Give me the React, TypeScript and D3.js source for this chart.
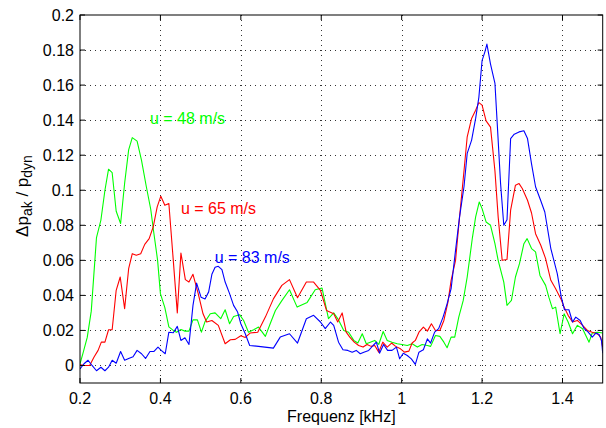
import React from 'react';
import * as d3 from 'd3';

const xTicks = [0.2, 0.4, 0.6, 0.8, 1.0, 1.2, 1.4];
const xTickLabels = ['0.2', '0.4', '0.6', '0.8', '1', '1.2', '1.4'];
const yTicks = [0, 0.02, 0.04, 0.06, 0.08, 0.1, 0.12, 0.14, 0.16, 0.18, 0.2];
const yTickLabels = ['0', '0.02', '0.04', '0.06', '0.08', '0.1', '0.12', '0.14', '0.16', '0.18', '0.2'];

const seriesNames = ['u = 48 m/s', 'u = 65 m/s', 'u = 83 m/s'];

const green48: [number, number][] = [
  [0.2, 0.001], [0.2075, 0.007], [0.218, 0.016], [0.228, 0.031], [0.241, 0.073], [0.252, 0.083],
  [0.262, 0.1], [0.271, 0.112], [0.28, 0.11], [0.29, 0.088], [0.301, 0.081], [0.311, 0.104],
  [0.321, 0.123], [0.33, 0.13], [0.342, 0.128], [0.353, 0.117], [0.365, 0.102], [0.376, 0.089],
  [0.384, 0.075], [0.393, 0.06], [0.4, 0.041], [0.411, 0.033], [0.421, 0.022], [0.432, 0.02],
  [0.44, 0.019], [0.451, 0.0205], [0.461, 0.0196], [0.471, 0.0196], [0.481, 0.026], [0.492, 0.026],
  [0.502, 0.019], [0.511, 0.025], [0.524, 0.0295], [0.536, 0.03], [0.55, 0.0267], [0.561, 0.0318],
  [0.572, 0.0238], [0.582, 0.028], [0.597, 0.029], [0.607, 0.0257], [0.619, 0.019], [0.632, 0.0204],
  [0.644, 0.0219], [0.661, 0.0166], [0.673, 0.0238], [0.686, 0.0314], [0.702, 0.037], [0.721, 0.0432],
  [0.74, 0.0333], [0.765, 0.036], [0.785, 0.0432], [0.802, 0.0442], [0.818, 0.0267], [0.831, 0.03],
  [0.843, 0.026], [0.856, 0.02], [0.868, 0.019], [0.881, 0.0143], [0.891, 0.0128], [0.902, 0.0181],
  [0.912, 0.0124], [0.922, 0.0133], [0.933, 0.0143], [0.943, 0.012], [0.954, 0.0194], [0.964, 0.0143],
  [0.976, 0.0133], [0.989, 0.0124], [1.001, 0.012], [1.014, 0.0114], [1.026, 0.0124], [1.039, 0.0105],
  [1.051, 0.012], [1.064, 0.0114], [1.072, 0.0109], [1.084, 0.0171], [1.095, 0.0166], [1.105, 0.0133],
  [1.113, 0.0101], [1.123, 0.0162], [1.132, 0.0162], [1.142, 0.0276], [1.153, 0.037], [1.163, 0.0505],
  [1.176, 0.073], [1.184, 0.0848], [1.193, 0.0933], [1.2, 0.0895], [1.21, 0.0819], [1.221, 0.08],
  [1.232, 0.0695], [1.24, 0.06], [1.254, 0.0476], [1.262, 0.0343], [1.273, 0.0371], [1.283, 0.0505],
  [1.293, 0.0581], [1.304, 0.0695], [1.312, 0.0724], [1.323, 0.0667], [1.333, 0.0648], [1.344, 0.0514],
  [1.358, 0.0457], [1.366, 0.039], [1.375, 0.0324], [1.383, 0.0333], [1.394, 0.0181], [1.404, 0.0295],
  [1.414, 0.0248], [1.425, 0.0181], [1.437, 0.0229], [1.45, 0.021], [1.458, 0.0171], [1.466, 0.0133],
  [1.474, 0.0185], [1.487, 0.019], [1.5, 0.0185],
];

const red65: [number, number][] = [
  [0.2, 0.0004], [0.212, 0], [0.224, 0], [0.235, 0.0048], [0.245, 0.0086], [0.253, 0.0133],
  [0.262, 0.0133], [0.271, 0.0204], [0.28, 0.0204], [0.29, 0.0429], [0.3, 0.0505], [0.311, 0.0324],
  [0.321, 0.0552], [0.33, 0.0638], [0.34, 0.0629], [0.351, 0.0638], [0.361, 0.0691], [0.372, 0.0724],
  [0.382, 0.079], [0.392, 0.0905], [0.401, 0.0966], [0.411, 0.0914], [0.421, 0.0924], [0.432, 0.06],
  [0.442, 0.03], [0.451, 0.0642], [0.462, 0.049], [0.471, 0.0476], [0.481, 0.052], [0.494, 0.041],
  [0.506, 0.0295], [0.515, 0.0248], [0.528, 0.0257], [0.544, 0.0229], [0.561, 0.0124], [0.574, 0.0147],
  [0.586, 0.0149], [0.6, 0.017], [0.611, 0.016], [0.623, 0.0185], [0.642, 0.019], [0.661, 0.0276],
  [0.681, 0.038], [0.702, 0.0457], [0.721, 0.049], [0.741, 0.0387], [0.763, 0.0476], [0.781, 0.0476],
  [0.798, 0.0429], [0.813, 0.0314], [0.831, 0.0295], [0.841, 0.0248], [0.852, 0.03], [0.862, 0.019],
  [0.871, 0.0162], [0.882, 0.0133], [0.893, 0.0114], [0.904, 0.0105], [0.914, 0.012], [0.924, 0.0109],
  [0.933, 0.0114], [0.943, 0.0076], [0.953, 0.0133], [0.964, 0.0105], [0.975, 0.0128], [0.985, 0.0109],
  [0.997, 0.0095], [1.007, 0.0076], [1.018, 0.0082], [1.026, 0.0128], [1.034, 0.0143], [1.043, 0.019],
  [1.054, 0.0219], [1.064, 0.0196], [1.074, 0.0238], [1.084, 0.02], [1.095, 0.02], [1.105, 0.0257],
  [1.115, 0.036], [1.123, 0.0486], [1.134, 0.06], [1.144, 0.0848], [1.155, 0.111], [1.163, 0.1305],
  [1.174, 0.141], [1.184, 0.1457], [1.192, 0.15], [1.2, 0.1486], [1.21, 0.1396], [1.221, 0.136],
  [1.232, 0.111], [1.24, 0.0848], [1.25, 0.06], [1.262, 0.0605], [1.271, 0.0886], [1.283, 0.1029],
  [1.292, 0.1038], [1.3, 0.101], [1.313, 0.0943], [1.323, 0.087], [1.333, 0.0752], [1.346, 0.0686],
  [1.358, 0.061], [1.371, 0.0486], [1.383, 0.0438], [1.396, 0.038], [1.404, 0.0333], [1.414, 0.0286],
  [1.425, 0.0248], [1.437, 0.0257], [1.45, 0.0229], [1.462, 0.02], [1.474, 0.019], [1.487, 0.018],
  [1.495, 0.0162], [1.5, 0.0105],
];

const blue83: [number, number][] = [
  [0.2, -0.002], [0.21, 0.001], [0.22, 0.003], [0.23, 0], [0.241, -0.003], [0.252, -0.001],
  [0.262, -0.003], [0.271, -0.001], [0.28, 0.003], [0.29, 0.0013], [0.301, 0.008], [0.311, 0.003],
  [0.321, 0.004], [0.332, 0.005], [0.342, 0.0086], [0.353, 0.0067], [0.363, 0.004], [0.374, 0.008],
  [0.384, 0.008], [0.394, 0.0105], [0.402, 0.0086], [0.412, 0.0067], [0.421, 0.019], [0.432, 0.0187],
  [0.442, 0.0223], [0.451, 0.0143], [0.461, 0.0158], [0.471, 0.012], [0.481, 0.0343], [0.49, 0.047],
  [0.501, 0.039], [0.511, 0.038], [0.52, 0.042], [0.528, 0.052], [0.536, 0.056], [0.544, 0.0566],
  [0.553, 0.0547], [0.561, 0.0476], [0.572, 0.041], [0.582, 0.0343], [0.592, 0.0305], [0.6, 0.0238],
  [0.611, 0.0181], [0.622, 0.0114], [0.644, 0.0109], [0.681, 0.0099], [0.698, 0.0162], [0.721, 0.0181],
  [0.741, 0.0128], [0.763, 0.0267], [0.781, 0.0286], [0.798, 0.0248], [0.81, 0.021], [0.823, 0.0248],
  [0.831, 0.0229], [0.843, 0.0133], [0.854, 0.009], [0.866, 0.0086], [0.877, 0.0076], [0.887, 0.0086],
  [0.897, 0.0067], [0.906, 0.0076], [0.918, 0.0086], [0.929, 0.0114], [0.937, 0.0133], [0.945, 0.007],
  [0.955, 0.012], [0.965, 0.0086], [0.976, 0.0086], [0.987, 0.0105], [0.995, 0.0038], [1.004, 0.007],
  [1.014, 0.0057], [1.024, 0.0038], [1.034, 0.0006], [1.043, 0.0076], [1.054, 0.009], [1.064, 0.0152],
  [1.072, 0.0128], [1.082, 0.019], [1.092, 0.021], [1.103, 0.0276], [1.113, 0.0352], [1.123, 0.0438],
  [1.134, 0.0657], [1.144, 0.0848], [1.155, 0.102], [1.163, 0.121], [1.174, 0.1286], [1.184, 0.141],
  [1.192, 0.153], [1.2, 0.174], [1.207, 0.179], [1.212, 0.1834], [1.221, 0.172], [1.232, 0.161],
  [1.24, 0.1286], [1.246, 0.1038], [1.254, 0.08], [1.262, 0.0832], [1.271, 0.1295], [1.28, 0.132],
  [1.292, 0.1333], [1.304, 0.1339], [1.313, 0.1295], [1.323, 0.115], [1.333, 0.102], [1.346, 0.094],
  [1.356, 0.0876], [1.371, 0.0667], [1.387, 0.0524], [1.397, 0.039], [1.405, 0.0318], [1.416, 0.0318],
  [1.425, 0.0248], [1.433, 0.0276], [1.444, 0.0257], [1.454, 0.021], [1.464, 0.019], [1.474, 0.0162],
  [1.483, 0.0185], [1.491, 0.0177], [1.497, 0.0143], [1.5, 0.007],
];

const W = 606;
const H = 428;
const FONT = '"Liberation Sans", Arial, Helvetica, sans-serif';

export default function App() {
  React.useEffect(() => {
    document.body.style.margin = '0';
  }, []);

  const x = d3.scaleLinear().domain([0.2, 1.5]).range([80, 602.7]);
  const y = d3.scaleLinear().domain([-0.01, 0.2]).range([383, 15]);
  const line = d3
    .line<[number, number]>()
    .x((d) => x(d[0]))
    .y((d) => y(d[1]));

  const [x0, x1] = x.range();
  const [y0, y1] = y.range();
  const tickLen = 5;

  const series = [
    { data: green48, color: '#00ff00', label: seriesNames[0], lx: 0.374, ly: 0.1377 },
    { data: red65, color: '#ff0000', label: seriesNames[1], lx: 0.451, ly: 0.0863 },
    { data: blue83, color: '#0000ff', label: seriesNames[2], lx: 0.535, ly: 0.0583 },
  ];

  return (
    <svg
      width={W}
      height={H}
      style={{ position: 'absolute', left: 0, top: 0, background: '#fff' }}
      fontFamily={FONT}
    >
      <rect x={0} y={0} width={W} height={H} fill="#fff" />
      {/* grid */}
      <g stroke="#333" strokeWidth={1} strokeDasharray="1,4" fill="none">
        {xTicks
          .filter((t) => t > 0.2)
          .map((t) => (
            <line key={'gx' + t} x1={Math.round(x(t)) + 0.5} x2={Math.round(x(t)) + 0.5} y1={y1} y2={y0} />
          ))}
        {yTicks
          .filter((t) => t < 0.2)
          .map((t) => (
            <line key={'gy' + t} x1={x0} x2={x1} y1={Math.round(y(t)) + 0.5} y2={Math.round(y(t)) + 0.5} />
          ))}
      </g>
      {/* data lines */}
      <defs>
        <clipPath id="plotclip">
          <rect x={x0} y={y1} width={x1 - x0} height={y0 - y1} />
        </clipPath>
      </defs>
      <g clipPath="url(#plotclip)" fill="none" strokeWidth={1.1} strokeLinejoin="round">
        {series.map((s) => (
          <path key={s.label} d={line(s.data) || ''} stroke={s.color} />
        ))}
      </g>
      {/* axes box and ticks */}
      <g stroke="#000" strokeWidth={1} fill="none">
        <rect x={x0} y={y1} width={x1 - x0} height={y0 - y1} />
        {xTicks.map((t) => (
          <g key={'tx' + t}>
            <line x1={x(t)} x2={x(t)} y1={y0} y2={y0 - tickLen} />
            <line x1={x(t)} x2={x(t)} y1={y1} y2={y1 + tickLen} />
          </g>
        ))}
        {yTicks.map((t) => (
          <g key={'ty' + t}>
            <line x1={x0} x2={x0 + tickLen} y1={y(t)} y2={y(t)} />
            <line x1={x1} x2={x1 - tickLen} y1={y(t)} y2={y(t)} />
          </g>
        ))}
      </g>
      {/* tick labels */}
      <g fontSize={16} fill="#000">
        {xTicks.map((t, i) => (
          <text key={'lx' + t} x={x(t)} y={404} textAnchor="middle">
            {xTickLabels[i]}
          </text>
        ))}
        {yTicks.map((t, i) => (
          <text key={'ly' + t} x={74} y={y(t)} dy="0.36em" textAnchor="end">
            {yTickLabels[i]}
          </text>
        ))}
      </g>
      {/* axis labels */}
      <text x={(x0 + x1) / 2} y={422} textAnchor="middle" fontSize={16} fill="#000">
        Frequenz [kHz]
      </text>
      <text transform={`translate(28,196) rotate(-90)`} textAnchor="middle" fontSize={17} fill="#000">
        Δp
        <tspan fontSize={14} dy={4}>ak</tspan>
        <tspan dy={-4}> / p</tspan>
        <tspan fontSize={14} dy={4}>dyn</tspan>
      </text>
      {/* series labels */}
      {series.map((s) => (
        <text key={'sl' + s.label} x={x(s.lx)} y={y(s.ly)} fontSize={16} fill={s.color}>
          {s.label}
        </text>
      ))}
    </svg>
  );
}
